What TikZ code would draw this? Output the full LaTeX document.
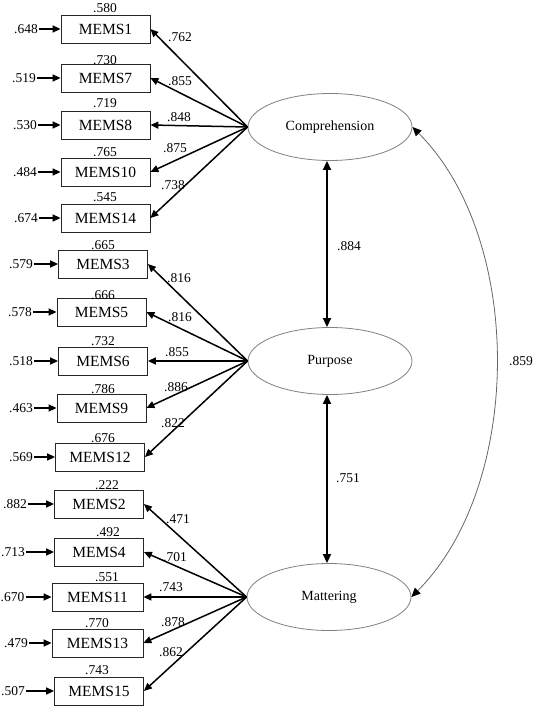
\documentclass[tikz,border=0pt]{standalone}
\usepackage{fontspec}
\setmainfont{Liberation Serif}
\usetikzlibrary{arrows.meta,shapes.geometric}
\begin{document}
\begin{tikzpicture}[x=1pt,y=-1pt,
 num/.style={inner sep=1pt,font=\fontsize{13.5}{16}\selectfont},
 errnum/.style={num,anchor=east},
 obs/.style={draw=black!85,line width=0.8pt,minimum width=89pt,minimum height=28pt,inner sep=0pt,font=\fontsize{15.5}{17}\selectfont},
 lat/.style={ellipse,draw=black!50,line width=0.8pt,minimum width=164pt,minimum height=67pt,inner sep=0pt,font=\fontsize{14}{16}\selectfont},
 load/.style={-{Triangle[length=8pt,width=7pt]},line width=1.5pt},
 errarr/.style={-{Triangle[length=8pt,width=7pt]},line width=1.5pt},
 cor/.style={{Triangle[length=9pt,width=8pt]}-{Triangle[length=9pt,width=8pt]},line width=1.5pt},
 curvecor/.style={{Triangle[length=9pt,width=8pt,color=black]}-{Triangle[length=9pt,width=8pt,color=black]},line width=0.8pt,draw=black!60},
 ]
\useasboundingbox (0,0) rectangle (536,708);

% latent variables
\node[lat] (comp) at (330,127) {Comprehension};
\node[lat] (purp) at (330,361) {Purpose};
\node[lat] (matt) at (329,597) {Mattering};

% ---- Comprehension group
\node[obs] (m1)  at (105.5,29)  {MEMS1};
\node[obs] (m7)  at (105.5,78)  {MEMS7};
\node[obs] (m8)  at (105.5,125) {MEMS8};
\node[obs] (m10) at (105.5,172) {MEMS10};
\node[obs] (m14) at (105.5,218) {MEMS14};

\node[errnum] (e1)  at (39,29)  {.648};
\node[errnum] (e7)  at (37,78)  {.519};
\node[errnum] (e8)  at (38,125) {.530};
\node[errnum] (e10) at (38,172) {.484};
\node[errnum] (e14) at (39,218) {.674};

\node[num] (r1)  at (105,8)   {.580};
\node[num] (r7)  at (105,60)  {.730};
\node[num] (r8)  at (105,103) {.719};
\node[num] (r10) at (105,152) {.765};
\node[num] (r14) at (105,197) {.545};

\node[num] (l1)  at (180,37)  {.762};
\node[num] (l7)  at (180,81)  {.855};
\node[num] (l8)  at (179,117) {.848};
\node[num] (l10) at (175,148) {.875};
\node[num] (l14) at (173,185) {.738};

% ---- Purpose group
\node[obs] (m3)  at (103,264)   {MEMS3};
\node[obs] (m5)  at (101.5,312) {MEMS5};
\node[obs] (m6)  at (103,361)   {MEMS6};
\node[obs] (m9)  at (101.5,408) {MEMS9};
\node[obs] (m12) at (100,457)   {MEMS12};

\node[errnum] (e3)  at (34,264) {.579};
\node[errnum] (e5)  at (33,312) {.578};
\node[errnum] (e6)  at (34,361) {.518};
\node[errnum] (e9)  at (34,408) {.463};
\node[errnum] (e12) at (34,457) {.569};

\node[num] (r3)  at (103,245) {.665};
\node[num] (r5)  at (103,295) {.666};
\node[num] (r6)  at (103,341) {.732};
\node[num] (r9)  at (103,389) {.786};
\node[num] (r12) at (103,438) {.676};

\node[num] (l3)  at (179,278) {.816};
\node[num] (l5)  at (180,317) {.816};
\node[num] (l6)  at (177,352) {.855};
\node[num] (l9)  at (176,387) {.886};
\node[num] (l12) at (173,423) {.822};

% ---- Mattering group
\node[obs] (m2)  at (99,504)  {MEMS2};
\node[obs] (m4)  at (99,552)  {MEMS4};
\node[obs,minimum width=91pt] (m11) at (97.5,597) {MEMS11};
\node[obs,minimum width=91pt] (m13) at (97.5,643) {MEMS13};
\node[obs] (m15) at (99,691)  {MEMS15};

\node[errnum] (e2)  at (28,504) {.882};
\node[errnum] (e4)  at (26,552) {.713};
\node[errnum] (e11) at (25.5,597) {.670};
\node[errnum] (e13) at (29,643) {.479};
\node[errnum] (e15) at (26,691) {.507};

\node[num] (r2)  at (107,485) {.222};
\node[num] (r4)  at (108,532) {.492};
\node[num] (r11) at (107,577) {.551};
\node[num] (r13) at (97,623)  {.770};
\node[num] (r15) at (97,670)  {.743};

\node[num] (l2)  at (178,519) {.471};
\node[num] (l4)  at (175,557) {.701};
\node[num] (l11) at (171,587) {.743};
\node[num] (l13) at (173,622) {.878};
\node[num] (l15) at (171,652) {.862};

% loadings
\foreach \m in {m1,m7,m8,m10,m14} \draw[load] (comp.west) -- (\m.east);
\foreach \m in {m3,m5,m6,m9,m12} \draw[load] (purp.west) -- (\m.east);
\foreach \m in {m2,m4,m11,m13,m15} \draw[load] (matt.west) -- (\m.east);

% error arrows
\foreach \i in {1,7,8,10,14,3,5,6,9,12,2,4,11,13,15} \draw[errarr] (e\i.east) -- (m\i.west);

% correlations
\draw[cor] ([xshift=-3pt]comp.south) -- ([xshift=-3pt]purp.north);
\draw[cor] ([xshift=-3pt]purp.south) -- ([xshift=-2pt]matt.north);
\node[num] (c1) at (349,246) {.884};
\node[num] (c2) at (348,478) {.751};
\draw[curvecor] (comp.east) .. controls +(112,112) and +(112,-112) .. (matt.east);
\node[num] (c3) at (521,361) {.859};
\end{tikzpicture}
\end{document}
